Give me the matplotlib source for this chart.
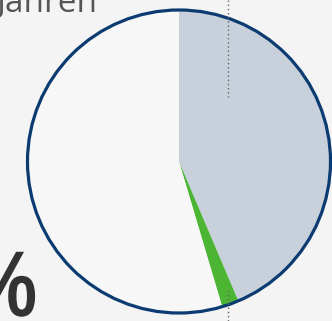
import matplotlib.pyplot as plt
from matplotlib.patheffects import AbstractPathEffect
from matplotlib.transforms import Affine2D

# shares of the pie (percent), clockwise from 12 o'clock
labels = ["Anteil A", "Anteil B", "Rest"]
shares = [43.6, 1.8, 54.6]
colors = ["#c8d1db", "#4cb533", "#f7f7f7"]


class Narrow(AbstractPathEffect):
    """Scale glyphs around a fixed display point (condensed look)."""

    def __init__(self, sx, sy, x0, y0):
        super().__init__()
        self.sx, self.sy = sx, sy
        self.x0, self.y0 = x0, y0

    def draw_path(self, renderer, gc, tpath, affine, rgbFace=None):
        squeeze = (Affine2D().translate(-self.x0, -self.y0)
                   .scale(self.sx, self.sy).translate(self.x0, self.y0))
        renderer.draw_path(gc, tpath, affine + squeeze, rgbFace)


W, H = 332, 321
fig = plt.figure(figsize=(W / 100, H / 100), dpi=100, facecolor="#f4f4f4")
ax = fig.add_axes([0, 0, 1, 1])
ax.set_facecolor("#f4f4f4")

cx, cy, r = 179, H - 161.5, 151.5
ax.pie(shares, colors=colors, startangle=90, counterclock=False,
       center=(cx, cy), radius=r, frame=True,
       wedgeprops=dict(linewidth=0))
circle = plt.Circle((cx, cy), r, fill=False, edgecolor="#0b3b70", linewidth=2.3)
ax.add_patch(circle)
ax.set_xlim(0, W)
ax.set_ylim(0, H)
ax.set_aspect("equal")
ax.axis("off")

# leader lines for the labels
ax.plot([228, 228], [H, H - 97], color="#666666", linestyle=(0, (1, 2)), linewidth=1)
ax.plot([228, 228], [0, H - 290], color="#666666", linestyle=(0, (1, 2)), linewidth=1)

ax.text(-3, H - 12, "Jahren", fontsize=24, color="#555555",
        family="Open Sans", ha="left", va="baseline")

pct_x, pct_y = 37, H - 316
x0, y0 = ax.transData.transform((pct_x, pct_y))
ax.text(pct_x, pct_y, "%", fontsize=56, color="#333333", fontweight="bold",
        family="Liberation Sans", ha="right", va="baseline",
        path_effects=[Narrow(1.0, 1.2, x0, y0)])

fig.savefig("out.png", dpi=100, facecolor=fig.get_facecolor())
